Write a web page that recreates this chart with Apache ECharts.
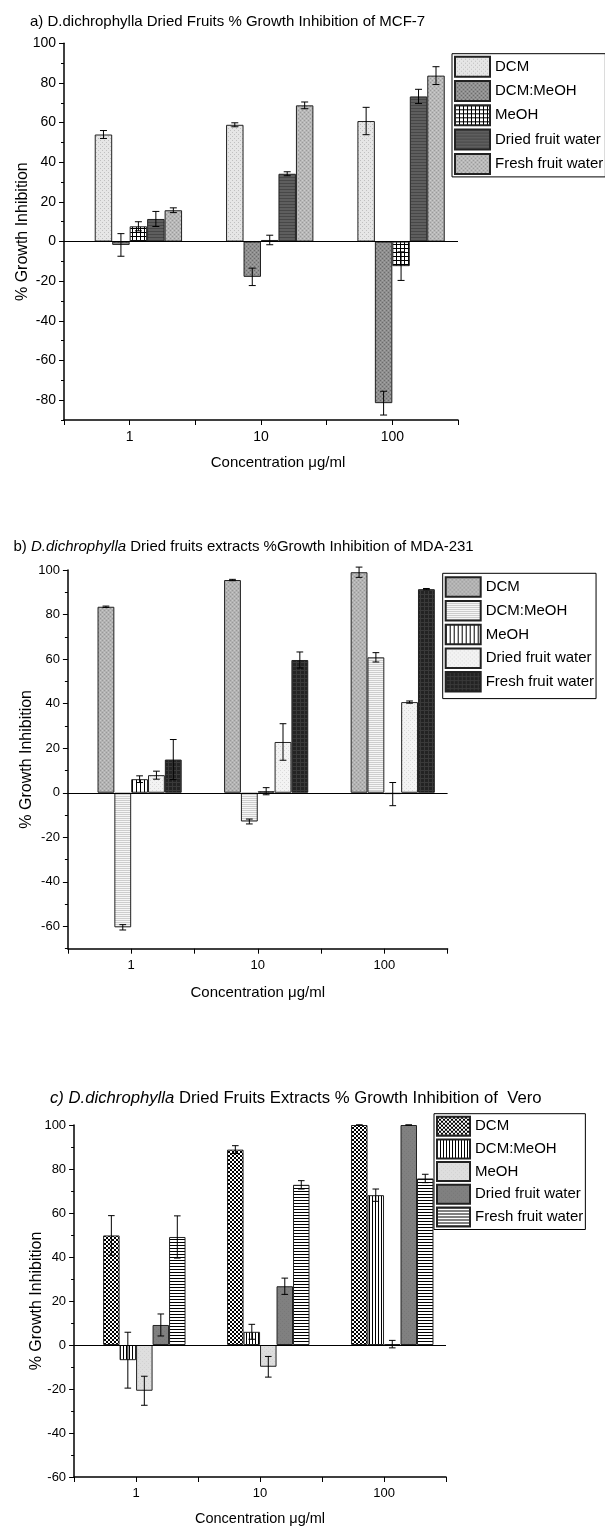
<!DOCTYPE html>
<html><head><meta charset="utf-8">
<script src="https://cdn.jsdelivr.net/npm/echarts@6/dist/echarts.min.js"></script>
<style>
html,body{margin:0;padding:0;background:#fff;}
.ch{position:absolute;left:0;width:605px;}
#a{top:0;height:510px}
#b{top:510px;height:525px}
#c{top:1035px;height:496px}
</style></head><body>
<div id="a" class="ch"></div><div id="b" class="ch"></div><div id="c" class="ch"></div>
<script>
// ---------- data ----------
const concentrations = [1, 10, 100];
const seriesNames = ['DCM', 'DCM:MeOH', 'MeOH', 'Dried fruit water', 'Fresh fruit water'];

// a) MCF-7
const a_DCM = [54.0, 58.9, 60.8],      a_DCM_err = [2.0, 1.0, 6.9];
const a_DCMMeOH = [-1.7, -17.8, -81.5], a_DCMMeOH_err = [5.7, 4.4, 6.0];
const a_MeOH = [7.7, 0.8, -12.4],      a_MeOH_err = [2.3, 2.4, 7.2];
const a_Dried = [11.4, 34.2, 73.2],    a_Dried_err = [3.8, 1.0, 3.6];
const a_Fresh = [15.8, 68.7, 83.7],    a_Fresh_err = [1.2, 1.7, 4.5];
const a_yLabels = [-80, -60, -40, -20, 0, 20, 40, 60, 80, 100];
const a_yMinor = [-90, -70, -50, -30, -10, 10, 30, 50, 70, 90];

// b) MDA-231
const b_DCM = [83.5, 95.5, 99.0],      b_DCM_err = [0.3, 0.3, 2.3];
const b_DCMMeOH = [-60.4, -12.9, 60.8], b_DCMMeOH_err = [1.2, 1.1, 2.1];
const b_MeOH = [6.1, 0.7, -0.6],       b_MeOH_err = [1.5, 1.6, 5.2];
const b_Dried = [7.9, 22.8, 40.7],     b_Dried_err = [1.8, 8.2, 0.5];
const b_Fresh = [14.9, 59.6, 91.4],    b_Fresh_err = [9.0, 3.6, 0.3];
const b_yLabels = [-60, -40, -20, 0, 20, 40, 60, 80, 100];
const b_yMinor = [-70, -50, -30, -10, 10, 30, 50, 70, 90];

// c) Vero
const c_DCM = [49.8, 88.8, 100],       c_DCM_err = [9.0, 1.8, 0];
const c_DCMMeOH = [-6.9, 6.0, 68.1],   c_DCMMeOH_err = [12.7, 3.4, 2.8];
const c_MeOH = [-20.8, -9.9, 0.4],     c_MeOH_err = [6.6, 4.7, 1.7];
const c_Dried = [9.1, 26.7, 100],      c_Dried_err = [5.0, 3.7, 0];
const c_Fresh = [49.1, 72.8, 75.7],    c_Fresh_err = [9.6, 1.9, 1.9];
const c_yLabels = [-60, -40, -20, 0, 20, 40, 60, 80, 100];
const c_yMinor = [-50, -30, -10, 10, 30, 50, 70, 90];

const titleA = '{n|a) D.dichrophylla Dried Fruits % Growth Inhibition of MCF-7}';
const titleB = '{n|b) }{i|D.dichrophylla}{n| Dried fruits extracts %Growth Inhibition of MDA-231}';
const titleC = '{i|c) D.dichrophylla}{n| Dried Fruits Extracts % Growth Inhibition of  Vero}';
const xName = 'Concentration μg/ml';
const yName = '% Growth Inhibition';

// ---------- style helpers ----------
const FONT = '"Liberation Sans", Arial, Helvetica, sans-serif';
const BAR_FRAC = 0.133;

function pat(w, h, draw) {
  const cv = document.createElement('canvas');
  cv.width = w; cv.height = h;
  const g = cv.getContext('2d');
  draw(g, w, h);
  return { image: cv, repeat: 'repeat' };
}
function stipple(base, dark, light) {
  return pat(4, 4, (g) => {
    g.fillStyle = base; g.fillRect(0, 0, 4, 4);
    g.fillStyle = dark; g.fillRect(0, 0, 1, 1); g.fillRect(2, 2, 1, 1);
    if (light) { g.fillStyle = light; g.fillRect(2, 0, 1, 1); g.fillRect(0, 2, 1, 1); }
  });
}
function hLines(period, bg, fg) {
  return pat(1, period, (g) => { g.fillStyle = bg; g.fillRect(0, 0, 1, period); g.fillStyle = fg; g.fillRect(0, 0, 1, 1); });
}
function vLines(period, bg, fg) {
  return pat(period, 1, (g) => { g.fillStyle = bg; g.fillRect(0, 0, period, 1); g.fillStyle = fg; g.fillRect(0, 0, 1, 1); });
}
function gridPat(period, bg, fg) {
  return pat(period, period, (g) => { g.fillStyle = bg; g.fillRect(0, 0, period, period); g.fillStyle = fg; g.fillRect(0, 0, period, 1); g.fillRect(0, 0, 1, period); });
}
function checker() {
  return pat(4, 4, (g) => {
    g.fillStyle = '#fff'; g.fillRect(0, 0, 4, 4); g.fillStyle = '#000';
    g.fillRect(0, 0, 2, 2); g.fillRect(2, 2, 2, 2);
  });
}

function errorRenderer(params, api) {
  const k = api.value(3);
  const x = api.value(0) + (k - 2.5) * BAR_FRAC;
  const v = api.value(1), e = api.value(2);
  const p1 = api.coord([x, v + e]);
  const p2 = api.coord([x, v - e]);
  const half = api.size([BAR_FRAC, 0])[0] * 0.2;
  const style = { stroke: '#000', lineWidth: 1 };
  return { type: 'group', children: [
    { type: 'line', shape: { x1: p1[0], y1: p1[1], x2: p2[0], y2: p2[1] }, style },
    { type: 'line', shape: { x1: p1[0] - half, y1: p1[1], x2: p1[0] + half, y2: p1[1] }, style },
    { type: 'line', shape: { x1: p2[0] - half, y1: p2[1], x2: p2[0] + half, y2: p2[1] }, style }
  ] };
}

function buildOption(cfg) {
  const xs = concentrations.map(c => Math.log10(c));
  const series = [{
    type: 'bar', name: '_pad', barWidth: (BAR_FRAC * 100) + '%', barGap: '0%',
    data: xs.map(x => [x, '-']), silent: true
  }];
  const errData = [];
  cfg.values.forEach((vals, i) => {
    const s = {
      type: 'bar', name: seriesNames[i], barWidth: (BAR_FRAC * 100) + '%', barGap: '0%',
      data: xs.map((x, j) => [x, vals[j]]),
      itemStyle: { color: cfg.patterns[i], borderColor: '#222', borderWidth: 1 },
      emphasis: { disabled: true }
    };
    if (i === 0) {
      s.markLine = { silent: true, symbol: ['none', 'none'], label: { show: false },
        lineStyle: { color: '#000', type: 'solid', width: 1 }, data: [{ yAxis: 0 }] };
    }
    series.push(s);
    xs.forEach((x, j) => errData.push([x, vals[j], cfg.errors[i][j], i + 1]));
  });
  series.push({ type: 'custom', name: '_err', renderItem: errorRenderer, data: errData,
    encode: { x: 0, y: 1 }, z: 5, silent: true, clip: false });

  return {
    animation: false,
    title: { text: cfg.title, left: cfg.titleLeft, top: cfg.titleTop, padding: 0,
      textStyle: { fontWeight: 'normal', rich: {
        n: { fontFamily: FONT, fontSize: cfg.titleSize, color: '#000', fontWeight: 'normal', lineHeight: 18 },
        i: { fontFamily: FONT, fontSize: cfg.titleSize, color: '#000', fontWeight: 'normal', fontStyle: 'italic', lineHeight: 18 }
      } } },
    legend: { data: seriesNames, orient: 'vertical', left: cfg.legend.left, top: cfg.legend.top,
      itemWidth: cfg.legend.iw, itemHeight: cfg.legend.ih, itemGap: cfg.legend.gap,
      padding: cfg.legend.pad, borderColor: '#000', borderWidth: 1, icon: 'rect',
      selectedMode: false, textStyle: { fontFamily: FONT, fontSize: cfg.legend.fs, color: '#000' } },
    grid: cfg.grid,
    xAxis: { type: 'value', min: -0.5, max: 2.5, interval: 0.5,
      axisLine: { onZero: false, lineStyle: { color: '#000', width: 1.5 } },
      axisTick: { length: 5, lineStyle: { color: '#000' } },
      splitLine: { show: false },
      axisLabel: { color: '#000', fontFamily: FONT, fontSize: cfg.tickSize, margin: 10,
        formatter: v => Math.abs(v - Math.round(v)) < 1e-6 ? String(concentrations[Math.round(v)]) : '' },
      name: xName, nameLocation: 'middle', nameGap: cfg.xNameGap, nameMoveOverlap: false,
      nameTextStyle: { fontFamily: FONT, fontSize: cfg.xNameSize, color: '#000', padding: cfg.xNamePad } },
    yAxis: [{
      type: 'value', min: cfg.yMin, max: cfg.yMax, position: 'left',
      axisLine: { show: true, onZero: false, lineStyle: { color: '#000', width: 1.5 } },
      axisTick: { show: true, length: 5, lineStyle: { color: '#000' }, customValues: cfg.yLabels },
      axisLabel: { color: '#000', fontFamily: FONT, fontSize: cfg.tickSize, margin: 8, customValues: cfg.yLabels },
      splitLine: { show: false },
      name: yName, nameLocation: 'middle', nameRotate: 90, nameGap: cfg.yNameGap, nameMoveOverlap: false,
      nameTextStyle: { fontFamily: FONT, fontSize: 16, color: '#000' }
    }, {
      type: 'value', min: cfg.yMin, max: cfg.yMax, position: 'left',
      axisLine: { show: false, onZero: false }, axisLabel: { show: false }, splitLine: { show: false },
      axisTick: { show: true, length: 3, lineStyle: { color: '#000' }, customValues: cfg.yMinor }
    }],
    series
  };
}

// ---------- chart a ----------
echarts.init(document.getElementById('a')).setOption(buildOption({
  title: titleA, titleLeft: 30, titleTop: 12.7, titleSize: 15,
  grid: { left: 64, top: 43.3, width: 394, height: 376.7 },
  yMin: -90, yMax: 100, yLabels: a_yLabels, yMinor: a_yMinor,
  tickSize: 14, xNameGap: 35, xNameSize: 15, xNamePad: [0, 0, 0, 34], yNameGap: 33,
  values: [a_DCM, a_DCMMeOH, a_MeOH, a_Dried, a_Fresh],
  errors: [a_DCM_err, a_DCMMeOH_err, a_MeOH_err, a_Dried_err, a_Fresh_err],
  patterns: [stipple('#e6e6e6', '#c0c0c0'), stipple('#8f8f8f', '#6c6c6c', '#a4a4a4'),
    gridPat(4, '#fff', '#000'), hLines(3, '#5e5e5e', '#474747'), stipple('#b8b8b8', '#9a9a9a', '#cccccc')],
  legend: { left: 452, top: 53.7, iw: 35, ih: 20, gap: 2.3, pad: [2, 2, 2, 2], fs: 15 }
}));

// ---------- chart b ----------
echarts.init(document.getElementById('b')).setOption(buildOption({
  title: titleB, titleLeft: 13.5, titleTop: 28, titleSize: 15,
  grid: { left: 67.9, top: 60, width: 379.7, height: 378.7 },
  yMin: -70, yMax: 100, yLabels: b_yLabels, yMinor: b_yMinor,
  tickSize: 13, xNameGap: 37, xNameSize: 15, xNamePad: [0, 0, 0, 0], yNameGap: 33,
  values: [b_DCM, b_DCMMeOH, b_MeOH, b_Dried, b_Fresh],
  errors: [b_DCM_err, b_DCMMeOH_err, b_MeOH_err, b_Dried_err, b_Fresh_err],
  patterns: [stipple('#b3b3b3', '#989898', '#c8c8c8'), hLines(2, '#f6f6f6', '#cdcdcd'),
    vLines(4, '#fff', '#000'), stipple('#f3f3f3', '#dadada'), gridPat(4, '#232323', '#3a3a3a')],
  legend: { left: 442.7, top: 63.3, iw: 35, ih: 19.5, gap: 2.2, pad: [3, 2, 6, 2], fs: 15 }
}));

// ---------- chart c ----------
echarts.init(document.getElementById('c')).setOption(buildOption({
  title: titleC, titleLeft: 50, titleTop: 54, titleSize: 16.7,
  grid: { left: 74.1, top: 90, width: 371.9, height: 357.3 },
  yMin: -60, yMax: 100, yLabels: c_yLabels, yMinor: c_yMinor,
  tickSize: 13, xNameGap: 34, xNameSize: 14.5, xNamePad: [0, 0, 0, 0], yNameGap: 29.5,
  values: [c_DCM, c_DCMMeOH, c_MeOH, c_Dried, c_Fresh],
  errors: [c_DCM_err, c_DCMMeOH_err, c_MeOH_err, c_Dried_err, c_Fresh_err],
  patterns: [checker(), vLines(3, '#fff', '#000'), stipple('#dedede', '#d2d2d2'),
    stipple('#808080', '#787878'), hLines(3, '#fff', '#000')],
  legend: { left: 434, top: 78.7, iw: 33, ih: 19, gap: 1.7, pad: [2, 2, 2, 2], fs: 15 }
}));
</script>
</body></html>
